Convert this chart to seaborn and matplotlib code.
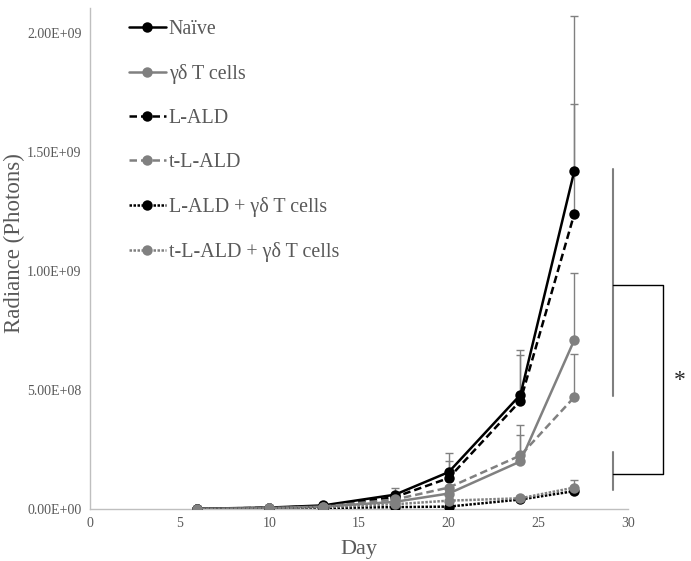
import seaborn as sns
import matplotlib.pyplot as plt
import pandas as pd
from matplotlib.ticker import FuncFormatter

days = [6, 10, 13, 17, 20, 24, 27]
groups = ['Naïve', 'γδ T cells', 'L-ALD', 't-L-ALD', 'L-ALD + γδ T cells', 't-L-ALD + γδ T cells']

# radiance means (photons)
naive = [0.001e9, 0.006e9, 0.015e9, 0.06e9, 0.155e9, 0.48e9, 1.42e9]
gd_cells = [0.001e9, 0.004e9, 0.010e9, 0.03e9, 0.065e9, 0.20e9, 0.71e9]
lald = [0.001e9, 0.005e9, 0.012e9, 0.05e9, 0.13e9, 0.455e9, 1.24e9]
tlald = [0.001e9, 0.004e9, 0.010e9, 0.04e9, 0.09e9, 0.225e9, 0.47e9]
lald_gd = [0.001e9, 0.002e9, 0.004e9, 0.008e9, 0.01e9, 0.04e9, 0.075e9]
tlald_gd = [0.001e9, 0.003e9, 0.008e9, 0.02e9, 0.035e9, 0.045e9, 0.09e9]

# upper error bars only
naive_err = [0, 0, 0, 0.03e9, 0.08e9, 0.19e9, 0.65e9]
gd_err = [0, 0, 0, 0, 0, 0.11e9, 0.28e9]
lald_err = [0, 0, 0, 0, 0.07e9, 0.19e9, 0.46e9]
tlald_err = [0, 0, 0, 0, 0, 0.13e9, 0.18e9]
lald_gd_err = [0, 0, 0, 0, 0, 0, 0]
tlald_gd_err = [0, 0, 0, 0, 0, 0, 0.03e9]

means = [naive, gd_cells, lald, tlald, lald_gd, tlald_gd]
errs = [naive_err, gd_err, lald_err, tlald_err, lald_gd_err, tlald_gd_err]

rows = []
for g, m in zip(groups, means):
    for d, v in zip(days, m):
        rows.append({'Day': d, 'Radiance': v, 'Group': g})
df = pd.DataFrame(rows)

black = '#000000'
gray = '#808080'
txt = '#595959'
palette = dict(zip(groups, [black, gray, black, gray, black, gray]))
dashes = dict(zip(groups, ['', '', (3, 1.6), (3, 1.6), (1, 0.6), (1, 0.6)]))

sns.set_style('white')
plt.rcParams['font.family'] = ['Liberation Serif', 'DejaVu Serif']

fig = plt.figure(figsize=(6.91, 5.61), dpi=100)
ax = fig.add_axes([0.130, 0.0927, 0.779, 0.893])

# error bars first so lines sit on top
for m, e in zip(means, errs):
    ax.errorbar(days, m, yerr=[[0] * len(e), e], fmt='none', ecolor=gray,
                elinewidth=1, capsize=3, capthick=1, zorder=1)

sns.lineplot(data=df, x='Day', y='Radiance', hue='Group', style='Group',
             palette=palette, dashes=dashes, markers=['o'] * 6,
             markeredgewidth=0, markersize=7.5, linewidth=1.8, ax=ax, zorder=3)

ax.set_xlim(0, 30)
ax.set_ylim(0, 2.105e9)
ax.set_xticks(range(0, 31, 5))
ax.set_yticks([0, 0.5e9, 1.0e9, 1.5e9, 2.0e9])
ax.yaxis.set_major_formatter(FuncFormatter(lambda v, p: f'{v:.2E}'))
ax.tick_params(axis='both', length=0, labelsize=10, colors=txt, pad=6)
ax.set_xlabel('Day', fontsize=16, color=txt, labelpad=7)
ax.set_ylabel('Radiance (Photons)', fontsize=16.5, color=txt)
ax.yaxis.set_label_coords(-0.12, 0.53)
for s in ['top', 'right']:
    ax.spines[s].set_visible(False)
for s in ['left', 'bottom']:
    ax.spines[s].set_color('#bfbfbf')
    ax.spines[s].set_linewidth(1)

handles, labels = ax.get_legend_handles_labels()
leg = ax.legend(handles, labels, loc='upper left', bbox_to_anchor=(0.05, 1.0),
                frameon=False, fontsize=14.4, labelspacing=1.25, handlelength=1.85,
                handletextpad=0.15, borderaxespad=0.2)
for t in leg.get_texts():
    t.set_color(txt)

# significance bracket
ax.plot([29.17, 29.17], [1.43e9, 0.475e9], color='#7f7f7f', lw=1.5, clip_on=False)
ax.plot([29.17, 29.17], [0.24e9, 0.08e9], color='#7f7f7f', lw=1.5, clip_on=False)
ax.plot([29.17, 31.96, 31.96, 29.17], [0.94e9, 0.94e9, 0.145e9, 0.145e9],
        color='black', lw=1, clip_on=False)
ax.text(32.9, 0.54e9, '*', fontsize=17, ha='center', va='center', clip_on=False)

fig.savefig('out.png', dpi=100)
